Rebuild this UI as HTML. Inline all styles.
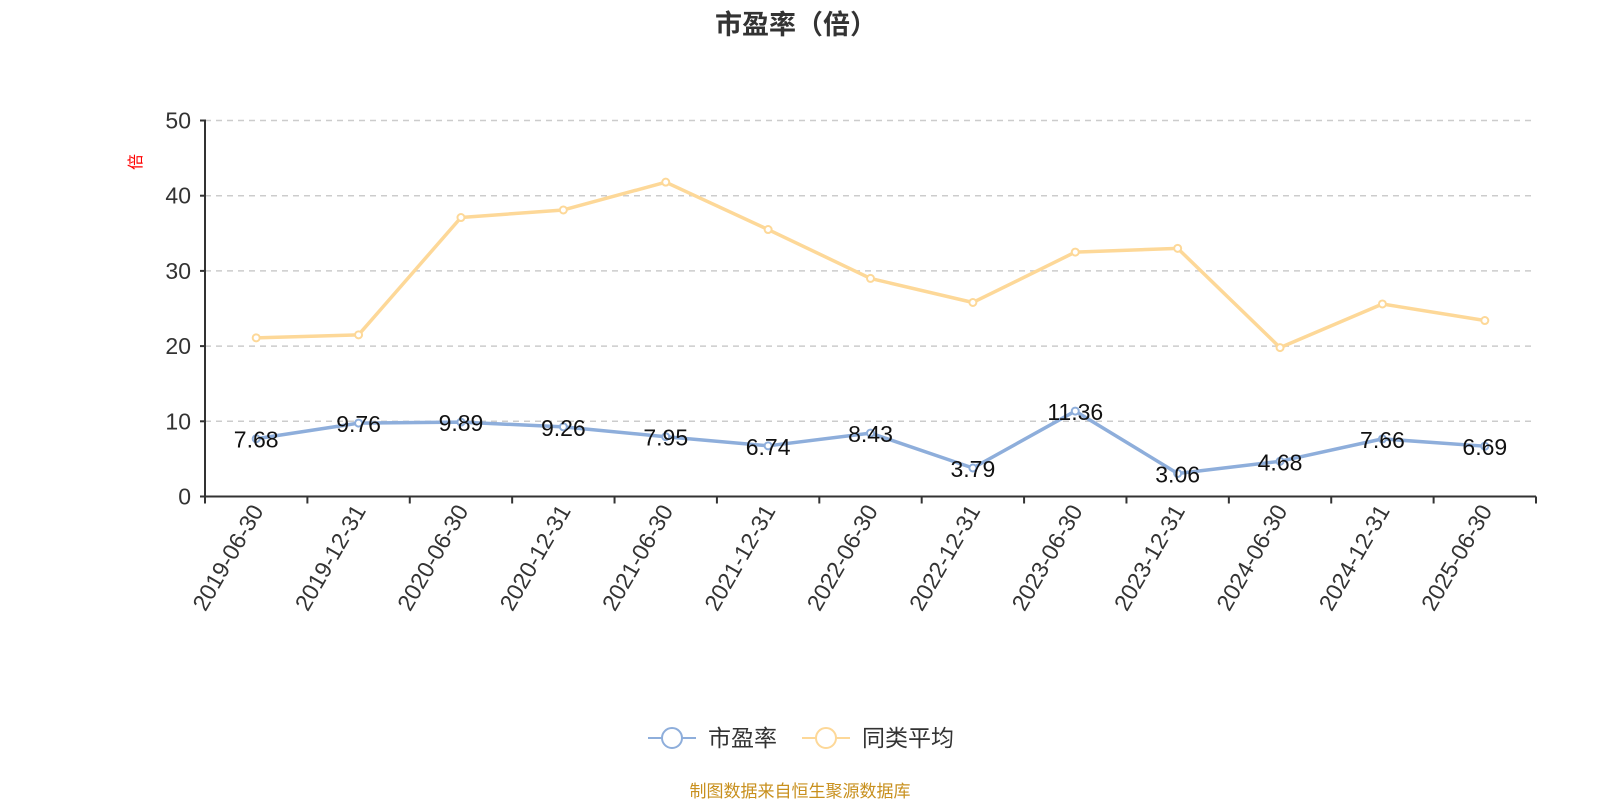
<!DOCTYPE html>
<html><head><meta charset="utf-8"><style>
html,body{margin:0;padding:0;background:#fff;width:1600px;height:800px;overflow:hidden}
svg{font-family:"Liberation Sans","Noto Sans CJK SC",sans-serif}
</style></head><body>
<svg id="chart" width="1600" height="800" viewBox="0 0 1600 800" xmlns="http://www.w3.org/2000/svg">
<text x="796" y="34" text-anchor="middle" font-size="27" font-weight="bold" fill="#333">市盈率（倍）</text>
<text x="0" y="0" transform="translate(141,162) rotate(-90)" text-anchor="middle" font-size="16" fill="#f00">倍</text>
<g id="grid"></g><g id="axes"></g><g id="series"></g>
<g>
<g>
<line x1="648" y1="738" x2="696" y2="738" stroke="#8eaedb" stroke-width="2"/>
<circle cx="672" cy="738" r="10" fill="#fff" stroke="#8eaedb" stroke-width="2"/>
<text x="708" y="746" font-size="23" fill="#333">市盈率</text></g>
<g>
<line x1="802" y1="738" x2="850" y2="738" stroke="#fdd898" stroke-width="2"/>
<circle cx="826" cy="738" r="10" fill="#fff" stroke="#fdd898" stroke-width="2"/>
<text x="862" y="746" font-size="23" fill="#333">同类平均</text></g>
</g>
<text x="800" y="797" text-anchor="middle" font-size="17" fill="#c8901e">制图数据来自恒生聚源数据库</text>
</svg>
<script>
const categories=["2019-06-30","2019-12-31","2020-06-30","2020-12-31","2021-06-30","2021-12-31","2022-06-30","2022-12-31","2023-06-30","2023-12-31","2024-06-30","2024-12-31","2025-06-30"];
const peValues=[7.68,9.76,9.89,9.26,7.95,6.74,8.43,3.79,11.36,3.06,4.68,7.66,6.69];
const peerValues=[21.1,21.5,37.1,38.1,41.8,35.5,29.0,25.8,32.5,33.0,19.8,25.6,23.4];
const yTicks=[0,10,20,30,40,50];
const NS="http://www.w3.org/2000/svg";
const L=205,R=1536,T=120.5,B=496.5,YMAX=50;
const band=(R-L)/categories.length;
const xPos=i=>L+band*(i+0.5);
const yPos=v=>B-(v/YMAX)*(B-T);
function mk(tag,attrs,parent){const e=document.createElementNS(NS,tag);for(const k in attrs)e.setAttribute(k,attrs[k]);parent.appendChild(e);return e;}
const grid=document.getElementById('grid'),axes=document.getElementById('axes'),series=document.getElementById('series');
yTicks.forEach(t=>{
  const y=yPos(t);
  if(t>0){const g=mk('line',{x1:L,x2:R,y1:y,y2:y,stroke:'#ccc','stroke-width':1.5,'stroke-dasharray':'6,5'},grid);
  
  }
  const tk=mk('line',{x1:L-5,x2:L,y1:y,y2:y,stroke:'#333','stroke-width':2},axes);
  
  
  const tx=mk('text',{x:L-14,y:y+8,'text-anchor':'end','font-size':23,fill:'#333'},axes);
  tx.textContent=t;
  
  
});
const ya=mk('line',{x1:L,x2:L,y1:T-1,y2:B,stroke:'#333','stroke-width':2},axes);


const xa=mk('line',{x1:L,x2:R,y1:B,y2:B,stroke:'#333','stroke-width':2},axes);


for(let i=0;i<=categories.length;i++){
  const x=L+band*i;
  const tk=mk('line',{x1:x,x2:x,y1:B,y2:B+7,stroke:'#333','stroke-width':2},axes);
  
  
}
categories.forEach((c,i)=>{
  const x=xPos(i),y=B+14;
  const tx=mk('text',{x:0,y:0,transform:`translate(${x+8},${y}) rotate(-60)`,'text-anchor':'end','font-size':23,fill:'#333'},axes);
  tx.textContent=c;
  
  
});
function drawSeries(vals,color,name,labels){
  const pts=vals.map((v,i)=>xPos(i)+','+yPos(v)).join(' ');
  const pl=mk('polyline',{points:pts,fill:'none',stroke:color,'stroke-width':3.5,'stroke-linejoin':'round'},series);
  
  
  vals.forEach((v,i)=>{
    const c=mk('circle',{cx:xPos(i),cy:yPos(v),r:3.5,fill:'#fff',stroke:color,'stroke-width':2},series);
    
    
    if(labels){
      const t=mk('text',{x:xPos(i),y:yPos(v)+9,'text-anchor':'middle','font-size':23,fill:'#111'},series);
      t.textContent=v.toFixed(2);
      
      
    }
  });
}
drawSeries(peerValues,'#fdd898','peer-average',false);
drawSeries(peValues,'#8eaedb','pe-ratio',true);
</script>
</body></html>
